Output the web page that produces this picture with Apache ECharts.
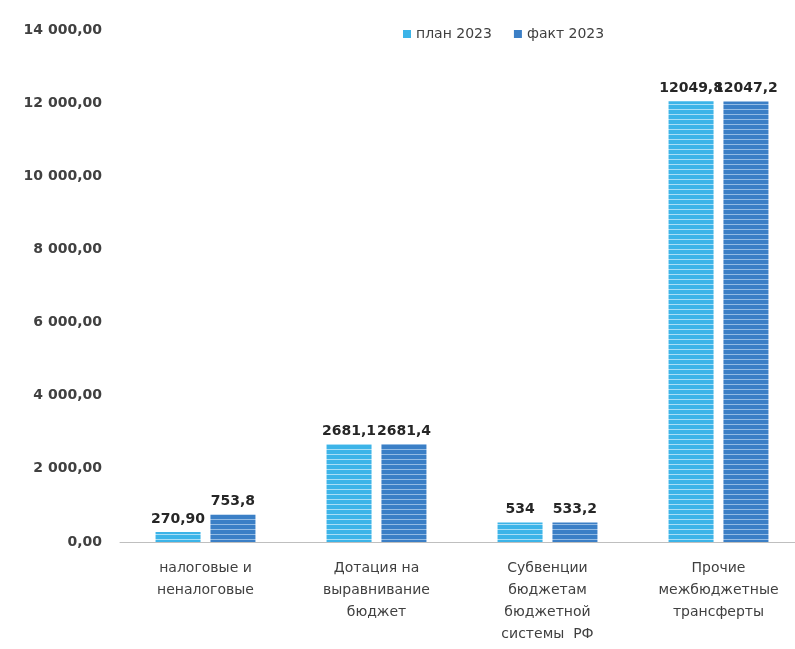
<!DOCTYPE html>
<html>
<head>
<meta charset="utf-8">
<script src="https://cdn.jsdelivr.net/npm/echarts@6/dist/echarts.min.js"></script>
<style>
  html, body { margin: 0; padding: 0; background: #fff; overflow: hidden; }
  #main { width: 812px; height: 649px; }
</style>
</head>
<body>
<div id="main"></div>
<script>
var categories = ['налоговые и\nненалоговые', 'Дотация на\nвыравнивание\nбюджет', 'Субвенции\nбюджетам\nбюджетной\nсистемы  РФ', 'Прочие\nмежбюджетные\nтрансферты'];
var planValues = [270.9, 2681.1, 534, 12049.8];
var factValues = [753.8, 2681.4, 533.2, 12047.2];
var planLabels = ['270,90', '2681,1', '534', '12049,8'];
var factLabels = ['753,8', '2681,4', '533,2', '12047,2'];
var seriesNames = ['план 2023', 'факт 2023'];

// полосатая заливка столбцов
function stripes(base, line) {
  var c = document.createElement('canvas');
  c.width = 4; c.height = 5;
  var ctx = c.getContext('2d');
  ctx.fillStyle = base;
  ctx.fillRect(0, 0, 4, 5);
  ctx.fillStyle = line;
  ctx.fillRect(0, 4, 4, 1);
  return c;
}

function fmt(v) {
  var s = String(Math.round(v));
  s = s.replace(/\B(?=(\d{3})+(?!\d))/g, ' ');
  return s + ',00';
}

var chart = echarts.init(document.getElementById('main'));
var labelFont = { color: '#262626', fontSize: 14, fontFamily: 'DejaVu Sans', fontWeight: 'bold' };

var option = {
  animation: false,
  legend: {
    top: 22,
    left: 398,
    itemWidth: 8,
    itemHeight: 8,
    itemGap: 22,
    icon: 'rect',
    textStyle: { color: '#404040', fontSize: 14, fontFamily: 'DejaVu Sans' },
    data: seriesNames
  },
  grid: { left: 120, width: 684, top: 30, bottom: 107, containLabel: false },
  xAxis: {
    type: 'category',
    data: categories,
    axisTick: { show: false },
    axisLine: { lineStyle: { color: '#bfbfbf', width: 1 } },
    axisLabel: {
      color: '#404040', fontSize: 14, fontFamily: 'DejaVu Sans',
      lineHeight: 22, margin: 15, interval: 0
    }
  },
  yAxis: {
    type: 'value',
    min: 0, max: 14000, interval: 2000,
    splitLine: { show: false },
    axisLine: { show: false },
    axisTick: { show: false },
    axisLabel: {
      color: '#404040', fontSize: 14, fontFamily: 'DejaVu Sans', fontWeight: 'bold',
      margin: 18, formatter: fmt
    }
  },
  series: [{
    name: seriesNames[0],
    type: 'bar',
    data: planValues,
    barWidth: 45,
    barGap: '22%',
    itemStyle: { color: { image: stripes('#3cb4e8', '#a8def6'), repeat: 'repeat' } },
    label: Object.assign({ show: true, position: 'top', distance: 6,
      formatter: function (p) { return planLabels[p.dataIndex]; } }, labelFont)
  }, {
    name: seriesNames[1],
    type: 'bar',
    data: factValues,
    barWidth: 45,
    itemStyle: { color: { image: stripes('#3b7fc6', '#93bbe4'), repeat: 'repeat' } },
    label: Object.assign({ show: true, position: 'top', distance: 6,
      formatter: function (p) { return factLabels[p.dataIndex]; } }, labelFont)
  }]
};
chart.setOption(option);
// цвета значков легенды
chart.setOption({ legend: { data: [
  { name: seriesNames[0], itemStyle: { color: '#3cb4e8' } },
  { name: seriesNames[1], itemStyle: { color: '#3b7fc6' } }
] } });
</script>
</body>
</html>
